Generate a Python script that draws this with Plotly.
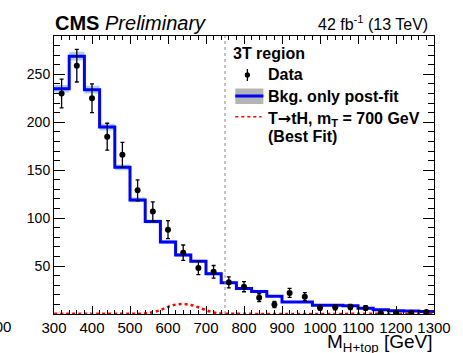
import plotly.graph_objects as go

# 40 GeV bins from 300 to 1300 GeV
bin_edges = list(range(300, 1301, 40))
bin_centers = [e + 20 for e in bin_edges[:-1]]

# Observed events and their uncertainties
data_counts = [230, 259, 225, 185, 166, 129, 107, 88, 64, 48, 44, 33, 28.5,
               17, 10, 22, 18, 6.5, 7, 7.3, 6.3, 1, 1, 1.3, 2]
data_errors = [15, 17, 15, 14, 13, 11, 10, 9.4, 8, 7, 6.6, 5.7, 5.3,
               4.1, 3.2, 4.7, 4.2, 2.5, 2.6, 2.7, 2.5, 1.0, 1.0, 1.1, 1.4]

# Background-only post-fit prediction with its uncertainty
bkg_counts = [235, 269, 234, 195, 153, 119, 96.5, 75, 61.5, 55, 42, 32.5, 26.5,
              23.5, 18.5, 12.5, 12.5, 9, 9, 8.5, 6, 4.5, 3.5, 3, 2.5]
bkg_unc = [4, 4.5, 4, 3.5, 3, 2.5, 2.2, 2, 1.8, 1.6, 1.5, 1.3, 1.2,
           1.1, 1, 1, 1, 0.9, 0.9, 0.8, 0.7, 0.6, 0.5, 0.5, 0.5]

# Signal template, T -> tH with m_T = 700 GeV (best fit)
sig_mass = [300, 520, 540, 560, 580, 600, 620, 640, 660, 680, 700, 720, 740, 760, 1300]
sig_counts = [0.3, 0.3, 0.6, 1.8, 4.2, 7.5, 9.8, 10.4, 9.4, 7, 4, 1.6, 0.6, 0.3, 0.3]

boundary_gev = 750

x_ticks = list(range(300, 1301, 100))
y_ticks = [50, 100, 150, 200, 250]

FONT = "Liberation Sans, Arial, Helvetica, sans-serif"

# step outlines need the last value repeated at the upper edge
step_x = bin_edges
bkg_step = bkg_counts + [bkg_counts[-1]]
bkg_lo = [b - u for b, u in zip(bkg_counts, bkg_unc)]
bkg_hi = [b + u for b, u in zip(bkg_counts, bkg_unc)]
bkg_lo = bkg_lo + [bkg_lo[-1]]
bkg_hi = bkg_hi + [bkg_hi[-1]]

fig = go.Figure()

fig.add_trace(go.Scatter(x=step_x, y=bkg_lo, mode="lines", line=dict(width=0, shape="hv"),
                         showlegend=False, hoverinfo="skip"))
fig.add_trace(go.Scatter(x=step_x, y=bkg_hi, mode="lines", line=dict(width=0, shape="hv"),
                         fill="tonexty", fillcolor="rgba(110,170,255,0.55)",
                         showlegend=False, hoverinfo="skip"))
fig.add_trace(go.Scatter(x=step_x, y=bkg_step, mode="lines",
                         line=dict(color="#0000ff", width=3, shape="hv"),
                         showlegend=False))
fig.add_trace(go.Scatter(x=sig_mass, y=sig_counts, mode="lines",
                         line=dict(color="#ff0000", width=2.5, dash="dot", shape="spline"),
                         showlegend=False))
fig.add_trace(go.Scatter(x=bin_centers, y=data_counts, mode="markers",
                         marker=dict(color="black", size=6),
                         error_y=dict(type="data", array=data_errors, color="black",
                                      thickness=1.3, width=2),
                         showlegend=False))

fig.add_shape(type="line", x0=boundary_gev, x1=boundary_gev, y0=0, y1=1,
              xref="x", yref="paper", line=dict(color="#888888", width=1, dash="dot"))

# legend, drawn by hand in the ROOT style
def px(x):
    return (x - 54) / 392

def py(y):
    return (314 - y) / 278

fig.add_shape(type="line", xref="paper", yref="paper", x0=px(253.5), x1=px(253.5),
              y0=py(69), y1=py(81), line=dict(color="black", width=1.3))
fig.add_shape(type="circle", xref="paper", yref="paper", x0=px(250.8), x1=px(256.2),
              y0=py(72.2), y1=py(77.6), fillcolor="black", line=dict(color="black", width=0))
fig.add_shape(type="rect", xref="paper", yref="paper", x0=px(241), x1=px(270),
              y0=py(104), y1=py(88.5), fillcolor="#b4b4b4", line=dict(width=0))
fig.add_shape(type="line", xref="paper", yref="paper", x0=px(241), x1=px(270),
              y0=py(96), y1=py(96), line=dict(color="#0000ff", width=3))
fig.add_shape(type="line", xref="paper", yref="paper", x0=px(241), x1=px(268),
              y0=py(116.7), y1=py(116.7), line=dict(color="#ff0000", width=1.5, dash="dot"))

def label(text, x, y, size, anchor="left", **kw):
    fig.add_annotation(text=text, xref="paper", yref="paper", x=px(x), y=py(y),
                       xanchor=anchor, yanchor="middle", showarrow=False,
                       font=dict(family=FONT, size=size, color="black"), **kw)

label("<b>3T region</b>", 236.5, 53.5, 16)
label("<b>Data</b>", 272.5, 74, 16)
label("<b>Bkg. only post-fit</b>", 272.5, 96.5, 16)
label("<b>T<span style='font-family:DejaVu Sans'>\u2192</span>tH, m<sub>T</sub> = 700 GeV</b>",
      272.5, 119, 16)
label("<b>(Best Fit)</b>", 272.5, 136, 16)

label("<b>CMS</b> <i>Preliminary</i>", 52.5, 22.5, 20)
label("42 fb<sup>-1</sup> (13 TeV)", 442, 23, 16, anchor="right")
label("M<sub>H+top</sub> [GeV]", 447, 343, 19, anchor="right")
label("1300", 12, 326, 15, anchor="right")

axis_common = dict(showline=True, linecolor="black", linewidth=1, mirror="ticks",
                   ticks="inside", tickcolor="black", showgrid=False, zeroline=False,
                   tickfont=dict(family=FONT, size=15, color="black"))

fig.update_xaxes(range=[300, 1300], tickvals=x_ticks, ticklen=8, tickwidth=1,
                 minor=dict(dtick=20, tick0=300, ticks="inside", ticklen=4,
                            tickcolor="black", tickwidth=1),
                 **axis_common)
fig.update_yaxes(range=[0, 290], tickvals=y_ticks, ticklen=11, tickwidth=1,
                 minor=dict(dtick=10, tick0=0, ticks="inside", ticklen=6,
                            tickcolor="black", tickwidth=1),
                 **axis_common)
fig.update_yaxes(tickfont=dict(size=14))

fig.update_layout(width=463, height=353, margin=dict(l=54, r=17, t=36, b=39),
                  paper_bgcolor="white", plot_bgcolor="white", showlegend=False,
                  font=dict(family=FONT))

fig.write_html("out.html")
